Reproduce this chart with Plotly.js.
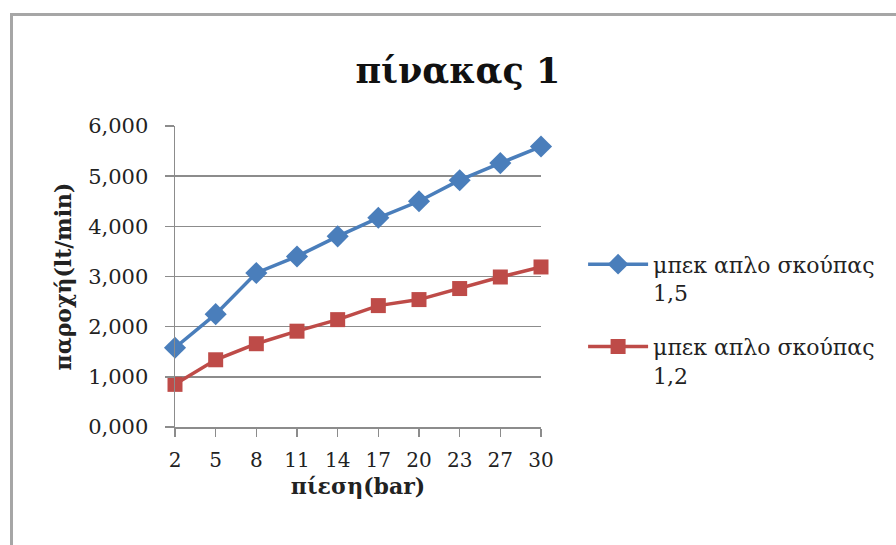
<!DOCTYPE html>
<html>
<head>
<meta charset="utf-8">
<script src="https://cdn.plot.ly/plotly-3.0.1.min.js"></script>
<style>
html,body{margin:0;padding:0;background:#fff;}
#wrap{position:relative;width:896px;height:545px;}
#chart{width:896px;height:545px;}
#frame{position:absolute;left:10px;top:13px;width:900px;height:560px;border-top:3px solid #a6a6a6;border-left:3px solid #a6a6a6;pointer-events:none;box-sizing:border-box;}
</style>
</head>
<body>
<div id="wrap"><div id="chart"></div><div id="frame"></div></div>
<script>
const categories = ['2','5','8','11','14','17','20','23','27','30'];
const series1Name = 'μπεκ απλο σκούπας<br>1,5';
const series1 = [1.58, 2.25, 3.07, 3.40, 3.80, 4.17, 4.50, 4.92, 5.26, 5.59];
const series2Name = 'μπεκ απλο σκούπας<br>1,2';
const series2 = [0.85, 1.34, 1.66, 1.91, 2.14, 2.42, 2.54, 2.76, 2.99, 3.19];
const yTickVals = [0, 1, 2, 3, 4, 5, 6];

const FONT = 'DejaVu Serif, Liberation Serif, serif';

const traces = [
  {
    x: categories, y: series1, name: series1Name, type: 'scatter', mode: 'lines+markers',
    legendgroup: 'g1', cliponaxis: false,
    line: {color: '#4a7ebb', width: 3.5},
    marker: {symbol: 'diamond', size: 17, color: '#4a7ebb'}
  },
  {
    x: categories, y: series2, name: series2Name, type: 'scatter', mode: 'lines+markers',
    legendgroup: 'g2', cliponaxis: false,
    line: {color: '#be4b48', width: 3.5},
    marker: {symbol: 'square', size: 15, color: '#be4b48'}
  }
];

const layout = {
  width: 896, height: 545,
  paper_bgcolor: '#ffffff', plot_bgcolor: '#ffffff',
  separators: ',.',
  margin: {l: 175, r: 355, t: 126, b: 118},
  font: {family: FONT, color: '#222'},
  title: {
    text: '<b>πίνακας 1</b>', font: {family: FONT, size: 35, color: '#111'},
    x: 0.511, xref: 'container', xanchor: 'center',
    y: 0.87, yref: 'container', yanchor: 'middle'
  },
  xaxis: {
    type: 'category', range: [0, 9], showgrid: false,
    showline: true, linecolor: '#8c8c8c', linewidth: 1.5,
    ticks: 'outside', ticklen: 8, tickcolor: '#8c8c8c', tickwidth: 1.5,
    tickfont: {family: FONT, size: 20, color: '#222'},
    ticklabelstandoff: 6,
    title: {text: '<b>πίεση(bar)</b>', font: {family: FONT, size: 22, color: '#222'}, standoff: 8},
    fixedrange: true
  },
  yaxis: {
    range: [0, 6], tickvals: yTickVals, tickformat: '.3f',
    showgrid: true, gridcolor: '#8c8c8c', gridwidth: 1.5,
    showline: true, linecolor: '#8c8c8c', linewidth: 1.5,
    ticks: 'outside', ticklen: 9, tickcolor: '#8c8c8c', tickwidth: 1.5,
    zeroline: false,
    tickfont: {family: FONT, size: 21, color: '#222'},
    ticklabelstandoff: 12,
    title: {text: '<b>παροχή(lt/min)</b>', font: {family: FONT, size: 22, color: '#222'}, standoff: 10},
    fixedrange: true
  },
  showlegend: true,
  legend: {
    x: 1.115, xanchor: 'left', y: 0.61, yanchor: 'top', valign: 'top',
    font: {family: FONT, size: 22, color: '#222'},
    tracegroupgap: 22, itemwidth: 60, bgcolor: 'rgba(0,0,0,0)'
  }
};

Plotly.newPlot('chart', traces, layout, {displayModeBar: false, staticPlot: true});
</script>
</body>
</html>
